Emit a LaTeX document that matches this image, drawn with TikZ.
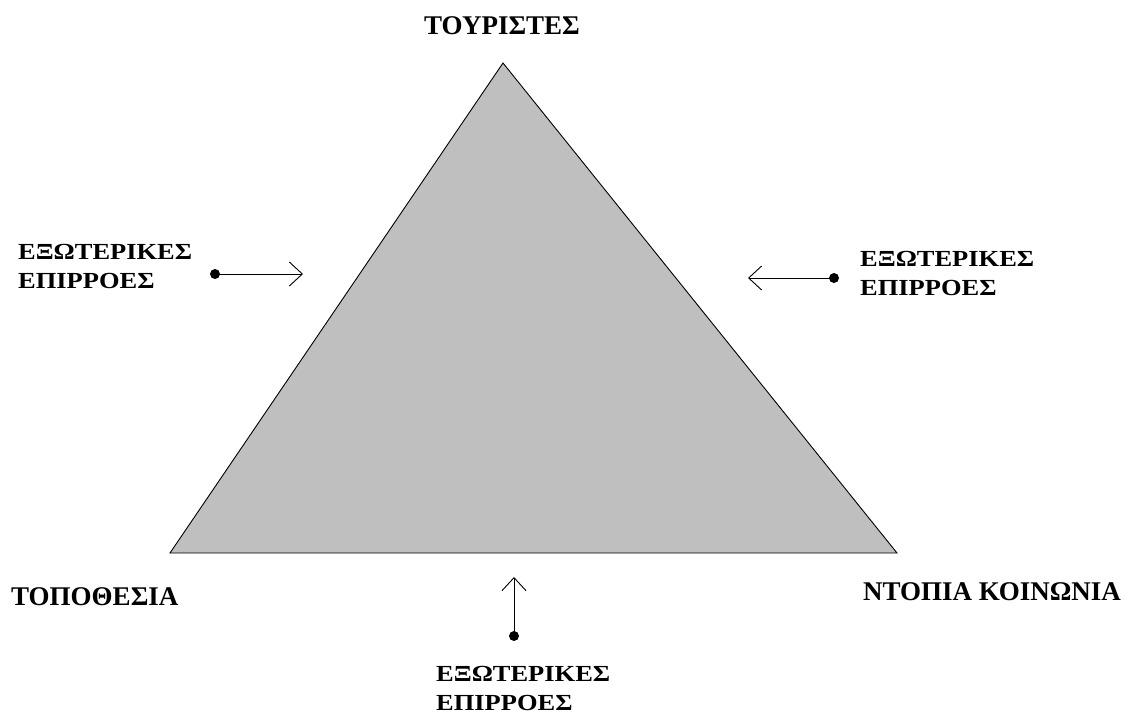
\documentclass[tikz,border=0pt]{standalone}
\usepackage{fontspec}
\setmainfont{Liberation Serif}
\newfontfamily\widefont[FakeStretch=1.15]{Liberation Serif}
\usetikzlibrary{arrows.meta}

\tikzset{
    corner/.style={font=\fontsize{27}{31}\selectfont\bfseries,inner sep=0pt},
    influence/.style={font=\widefont\fontsize{23}{29}\selectfont\bfseries,align=left,inner sep=0pt},
    pin dot/.style={circle,fill=black,inner sep=0pt,minimum size=10pt},
    push/.style={-{Straight Barb[length=13pt,width=24pt]},line width=0.9pt}
}

\begin{document}
\begin{tikzpicture}[x=1pt,y=-1pt]

        \useasboundingbox (0,0) rectangle (1133,713);

        % Triangle corners
        \coordinate (top) at (503,63);
        \coordinate (left) at (170,553);
        \coordinate (right) at (897,553);
        \filldraw[fill=black!25,draw=black,line width=0.9pt] (top) -- (left) -- (right) -- cycle;

        % Corner labels
        \node[corner] (tourists) at (502,26) {ΤΟΥΡΙΣΤΕΣ};
        \node[corner,anchor=west] (place) at (11,597) {ΤΟΠΟΘΕΣΙΑ};
        \node[corner,anchor=west] (locals) at (863,592) {ΝΤΟΠΙΑ ΚΟΙΝΩΝΙΑ};

        % Left influence
        \node[influence,anchor=west] (leftinf) at (18,266) {ΕΞΩΤΕΡΙΚΕΣ\\ΕΠΙΡΡΟΕΣ};
        \node[pin dot] (leftdot) at (215,274) {};
        \coordinate (lefttip) at (303,274);
        \draw[push] (leftdot.center) -- (lefttip);

        % Right influence
        \node[influence,anchor=west] (rightinf) at (860,273) {ΕΞΩΤΕΡΙΚΕΣ\\ΕΠΙΡΡΟΕΣ};
        \node[pin dot] (rightdot) at (834,278) {};
        \coordinate (righttip) at (748,278);
        \draw[push] (rightdot.center) -- (righttip);

        % Bottom influence
        \node[influence,anchor=west] (bottominf) at (436,688) {ΕΞΩΤΕΡΙΚΕΣ\\ΕΠΙΡΡΟΕΣ};
        \node[pin dot] (bottomdot) at (514,636) {};
        \coordinate (bottomtip) at (514,577);
        \draw[push] (bottomdot.center) -- (bottomtip);

\end{tikzpicture}
\end{document}
